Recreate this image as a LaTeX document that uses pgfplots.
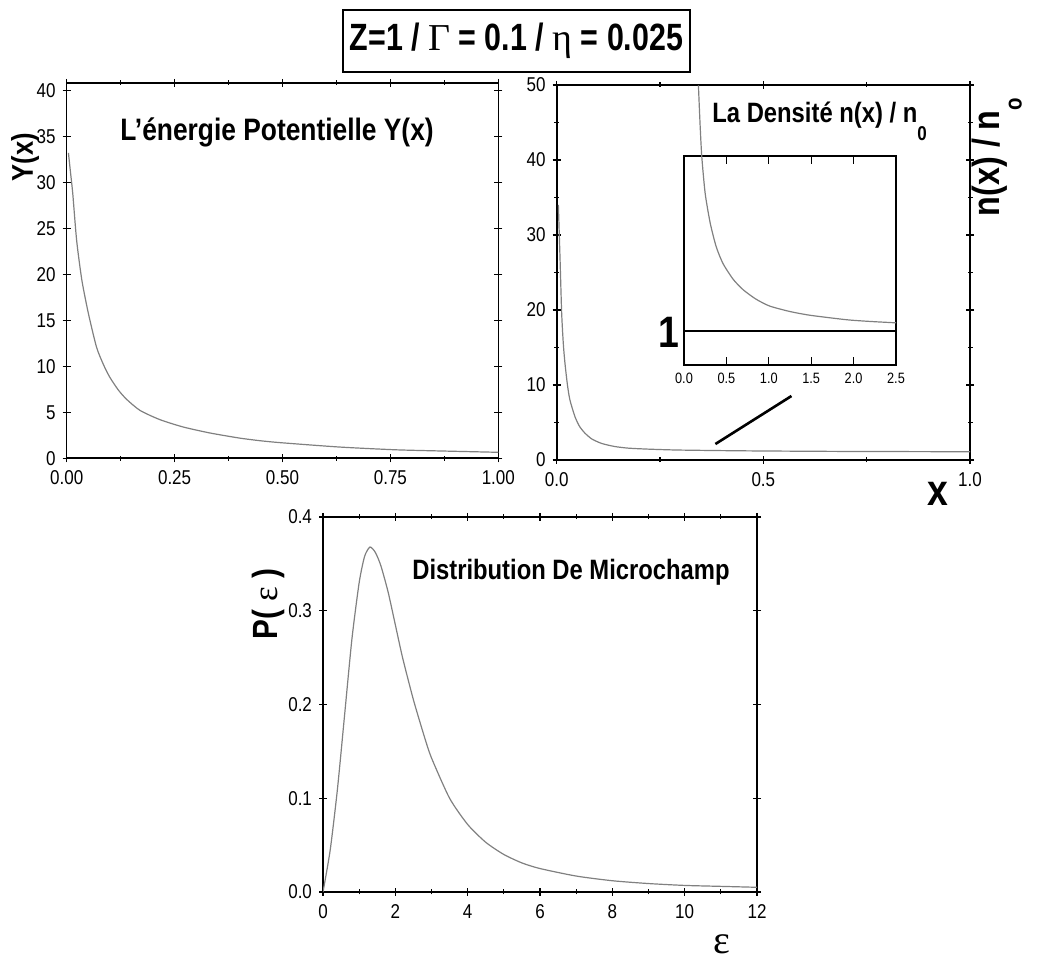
\documentclass[border=0pt]{standalone}
\usepackage{fontspec}
\setmainfont{Liberation Sans}[FakeStretch=0.85]
\newfontfamily\narrow{Liberation Sans}[FakeStretch=0.8]
\newfontfamily\grk{Liberation Serif}
\usepackage{pgfplots}
\pgfplotsset{compat=1.18}
\begin{document}
\begin{tikzpicture}[x=1pt,y=1pt]
\useasboundingbox (0,0) rectangle (522.5,481);
\pgfplotsset{every axis/.append style={scale only axis, anchor=south west,
  axis line style={line width=0.8pt}, tick align=center,
  tick style={line width=0.6pt, black}, major tick length=4pt, minor tick length=2.5pt,
  /pgf/number format/assume math mode=true,
  tick label style={font=\fontsize{10}{11}\selectfont},
  xticklabel style={text height=7.5pt, text depth=0pt}}}
\tikzset{curve/.style={black!50, line width=0.6pt, smooth, tension=0.4}}

% Top-left: potential energy
\begin{axis}[at={(33.35pt,251.85pt)}, width=215.8pt, height=187.65pt,
  xmin=0, xmax=1, ymin=0, ymax=40.8,
  xtick={0,0.25,0.5,0.75,1}, minor x tick num=1,
  ytick={0,5,...,40},
  xticklabel style={/pgf/number format/.cd, fixed, fixed zerofill, precision=2}]
\addplot[curve] coordinates {(0.004,33.2) (0.009,31) (0.014,28.8) (0.023,23.7) (0.035,19.4) (0.05,15.8) (0.069,12.1) (0.085,10.2) (0.10,8.8) (0.12,7.4) (0.139,6.4) (0.17,5.2) (0.216,4.2) (0.27,3.4) (0.332,2.75) (0.40,2.2) (0.45,1.9) (0.5,1.68) (0.633,1.22) (0.764,0.92) (0.88,0.78) (1.0,0.65)};
\end{axis}

% Top-right: density
\begin{axis}[at={(278.35pt,251pt)}, width=206.65pt, height=187.5pt,
  xmin=0, xmax=1, ymin=0, ymax=50,
  xtick={0,0.5,1}, minor x tick num=1,
  ytick={0,10,...,50}, minor y tick num=1,
  xticklabel style={/pgf/number format/.cd, fixed, fixed zerofill, precision=1}]
\addplot[curve] coordinates {(0.004,34) (0.008,27) (0.012,19.6) (0.016,15.5) (0.02,12.9) (0.026,10) (0.032,8) (0.044,5.8) (0.055,4.5) (0.068,3.6) (0.085,2.8) (0.109,2.2) (0.14,1.8) (0.173,1.58) (0.22,1.45) (0.29,1.33) (0.4,1.25) (0.5,1.2) (0.7,1.14) (1.0,1.1)};
\draw[line width=1.3pt] (axis cs:0.384,2.13) -- (axis cs:0.568,8.53);
\end{axis}

% Inset
\begin{axis}[at={(342pt,298.5pt)}, width=106pt, height=104.5pt,
  xmin=0, xmax=2.5, ymin=0, ymax=6.1, clip=false,
  xtick={0,0.5,...,2.5}, ytick=\empty, tick align=inside,
  xticklabel style={font=\fontsize{7.5}{8}\selectfont, text height=5.5pt, /pgf/number format/.cd, fixed, fixed zerofill, precision=1}]
\addplot[curve] coordinates {(0.17,8.16) (0.19,7.0) (0.21,6.07) (0.25,5.0) (0.31,4.13) (0.38,3.45) (0.46,2.96) (0.58,2.5) (0.70,2.19) (0.85,1.92) (1.01,1.72) (1.25,1.56) (1.49,1.45) (1.92,1.32) (2.2,1.27) (2.5,1.23)};
\addplot[black, line width=0.9pt] coordinates {(0,1) (2.5,1)};
\end{axis}

% Bottom: microfield distribution
\begin{axis}[at={(161.5pt,35pt)}, width=217pt, height=187.5pt,
  xmin=0, xmax=12, ymin=0, ymax=0.4,
  xtick={0,2,...,12}, minor x tick num=1,
  ytick={0,0.1,...,0.4},
  yticklabel style={/pgf/number format/.cd, fixed, fixed zerofill, precision=1}]
\addplot[curve] coordinates {(0,0) (0.2,0.045) (0.4,0.11) (0.6,0.19) (0.8,0.27) (1.0,0.33) (1.15,0.358) (1.3,0.368) (1.45,0.362) (1.6,0.348) (1.8,0.32) (2.0,0.285) (2.2,0.25) (2.5,0.205) (2.8,0.166) (3.0,0.143) (3.5,0.100) (4.0,0.072) (4.5,0.053) (5.0,0.040) (5.5,0.031) (6.0,0.025) (7.0,0.017) (8.0,0.012) (9,0.009) (10.0,0.007) (11,0.006) (12,0.005)};
\end{axis}

% Texts
\node[draw, line width=0.9pt, minimum width=173.5pt, minimum height=31pt, inner sep=0pt, font=\narrow\bfseries\fontsize{19}{21}\selectfont] at (258.25,460.5) {Z=1 / {\grk\mdseries Γ} = 0.1 / {\grk\mdseries η} = 0.025};
\node[font=\bfseries\fontsize{15.5}{17}\selectfont] at (138.5,415) {L'énergie Potentielle Y(x)};
\node[font=\bfseries\fontsize{14}{16}\selectfont, anchor=west, inner sep=0pt] at (356,420.25) {La Densité n(x) / n\raisebox{-1.2ex}{\fontsize{10}{11}\selectfont 0}};
\node[font=\bfseries\fontsize{19}{21}\selectfont, rotate=90] at (498.5,402.5) {n(x) / n\raisebox{-1.1ex}{\fontsize{12}{13}\selectfont o}};
\node[font=\bfseries\fontsize{15}{17}\selectfont, rotate=90] at (12.5,402.5) {Y(x)};
\node[font=\bfseries\fontsize{22}{24}\selectfont] at (469,234) {x};
\node[font=\bfseries\fontsize{22}{24}\selectfont] at (334.5,315) {1};
\node[font=\bfseries\fontsize{17.5}{19}\selectfont, rotate=90] at (134,179) {P( {\grk\mdseries ε} )};
\node[font=\bfseries\fontsize{14}{16}\selectfont] at (285.5,195) {Distribution De Microchamp};
\node[font=\grk\fontsize{20}{22}\selectfont, inner sep=0pt] at (361,9) {ε};
\end{tikzpicture}
\end{document}
